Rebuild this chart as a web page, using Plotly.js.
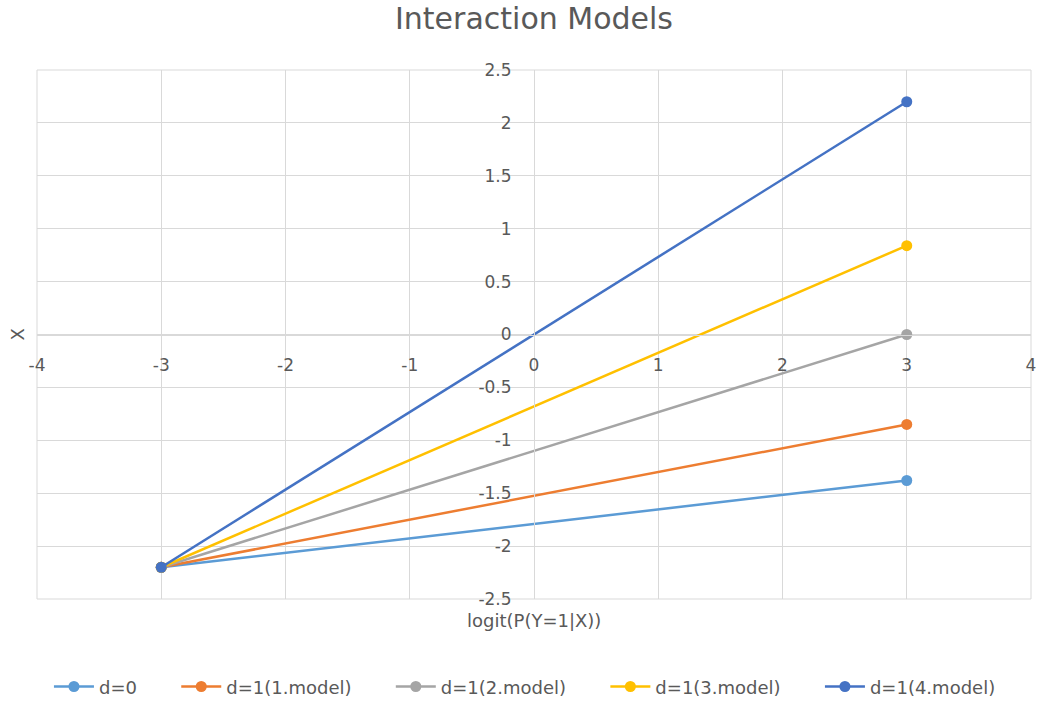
<!DOCTYPE html>
<html>
<head>
<meta charset="utf-8">
<script src="https://cdn.plot.ly/plotly-3.0.1.min.js"></script>
<style>
  html, body { margin: 0; padding: 0; background: #fff; }
  #chart { width: 1037px; height: 702px; }
</style>
</head>
<body>
<div id="chart"></div>
<script>
// logit values at which each model line is evaluated
const xValues = [-3, 3];

// series names and their X values at the two ends
const seriesNames = ['d=0', 'd=1(1.model)', 'd=1(2.model)', 'd=1(3.model)', 'd=1(4.model)'];
const d0 = [-2.2, -1.38];
const model1 = [-2.2, -0.85];
const model2 = [-2.2, 0];
const model3 = [-2.2, 0.84];
const model4 = [-2.2, 2.2];

// tick positions and labels (plain hyphen as the minus sign)
const xTickVals = [-4, -3, -2, -1, 0, 1, 2, 3, 4];
const xTickText = ['-4', '-3', '-2', '-1', '0', '1', '2', '3', '4'];
const yTickVals = [-2.5, -2, -1.5, -1, -0.5, 0, 0.5, 1, 1.5, 2, 2.5];
const yTickText = ['-2.5', '-2', '-1.5', '-1', '-0.5', '0', '0.5', '1', '1.5', '2', '2.5'];

const seriesColors = ['#5B9BD5', '#ED7D31', '#A5A5A5', '#FFC000', '#4472C4'];
const seriesValues = [d0, model1, model2, model3, model4];

const fontFamily = '"DejaVu Sans", sans-serif';
const textGrey = '#595959';
const gridGrey = '#D9D9D9';

// trailing non-breaking spaces widen the gap between legend entries
const legendPad = '\u00a0'.repeat(6);

const traces = seriesValues.map((ys, i) => ({
  type: 'scatter',
  mode: 'lines+markers',
  name: seriesNames[i] + legendPad,
  x: xValues,
  y: ys,
  line: { color: seriesColors[i], width: 2.5 },
  marker: { color: seriesColors[i], size: 11 }
}));

const axisCommon = {
  showgrid: true,
  gridcolor: gridGrey,
  gridwidth: 1,
  zeroline: false,
  showline: true,
  linecolor: gridGrey,
  anchor: 'free',
  position: 0.5,
  ticks: '',
  tickmode: 'array',
  tickfont: { family: fontFamily, size: 17, color: textGrey },
  fixedrange: true
};

const layout = {
  width: 1037,
  height: 702,
  margin: { l: 37, r: 6, t: 70, b: 103, autoexpand: false },
  paper_bgcolor: '#fff',
  plot_bgcolor: '#fff',
  font: { family: fontFamily, color: textGrey, size: 17 },
  title: {
    text: 'Interaction Models',
    font: { family: fontFamily, size: 30, color: textGrey },
    x: 0.5, xanchor: 'center',
    xref: 'paper',
    y: 0.974, yanchor: 'middle'
  },
  xaxis: Object.assign({}, axisCommon, {
    range: [-4, 4],
    tickvals: xTickVals,
    ticktext: xTickText,
    ticklabelstandoff: 15
  }),
  yaxis: Object.assign({}, axisCommon, {
    range: [-2.5, 2.5],
    tickvals: yTickVals,
    ticktext: yTickText,
    ticklabelstandoff: 19
  }),
  shapes: [{
    type: 'rect', xref: 'paper', yref: 'paper',
    x0: 0, x1: 1, y0: 0, y1: 1,
    line: { color: gridGrey, width: 1 },
    layer: 'below'
  }],
  annotations: [
    {
      text: 'logit(P(Y=1|X))',
      xref: 'paper', yref: 'paper',
      x: 0.5, y: -0.04,
      xanchor: 'center', yanchor: 'middle',
      showarrow: false,
      font: { family: fontFamily, size: 18, color: textGrey }
    },
    {
      text: 'X',
      xref: 'paper', yref: 'paper',
      x: -0.02, y: 0.5,
      xanchor: 'center', yanchor: 'middle',
      textangle: -90,
      showarrow: false,
      font: { family: fontFamily, size: 18, color: textGrey }
    }
  ],
  showlegend: true,
  legend: {
    orientation: 'h',
    x: 0.508, xanchor: 'center',
    y: -0.166, yanchor: 'middle',
    font: { family: fontFamily, size: 18, color: textGrey },
    itemwidth: 40,
    traceorder: 'normal'
  }
};

Plotly.newPlot('chart', traces, layout, { displayModeBar: false, staticPlot: true });
</script>
</body>
</html>
